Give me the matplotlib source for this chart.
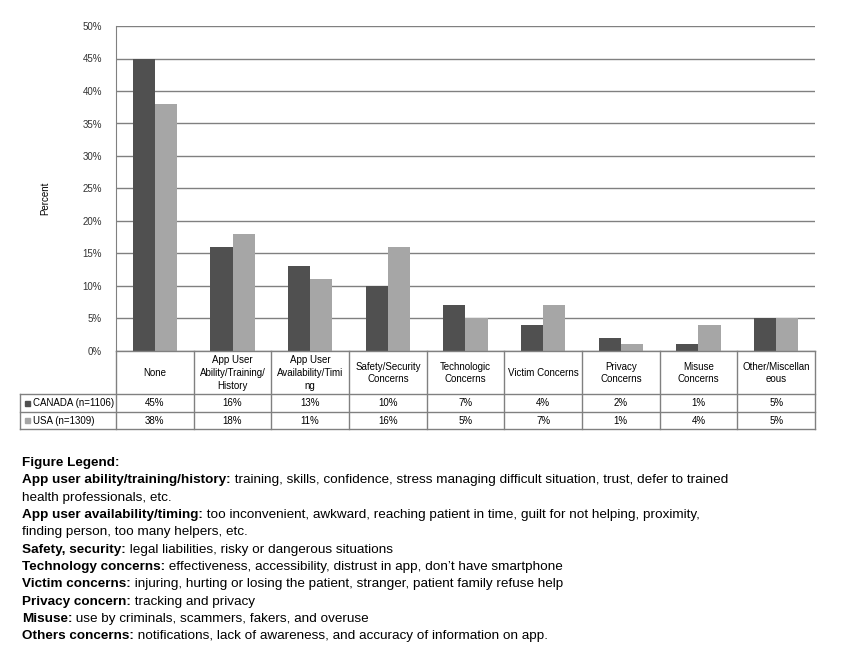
import matplotlib
matplotlib.use('Agg')
import matplotlib.pyplot as plt
from matplotlib.lines import Line2D
from matplotlib.patches import Rectangle
import numpy as np

# data
categories = ['None', 'App User\nAbility/Training/\nHistory', 'App User\nAvailability/Timi\nng',
              'Safety/Security\nConcerns', 'Technologic\nConcerns', 'Victim Concerns',
              'Privacy\nConcerns', 'Misuse\nConcerns', 'Other/Miscellan\neous']
canada = [45, 16, 13, 10, 7, 4, 2, 1, 5]
usa = [38, 18, 11, 16, 5, 7, 1, 4, 5]
series_labels = ['CANADA (n=1106)', 'USA (n=1309)']
yticks = list(range(0, 51, 5))

legend_title = 'Figure Legend:'
legend_lines = [
    ('App user ability/training/history:', ' training, skills, confidence, stress managing difficult situation, trust, defer to trained'),
    ('', 'health professionals, etc.'),
    ('App user availability/timing:', ' too inconvenient, awkward, reaching patient in time, guilt for not helping, proximity,'),
    ('', 'finding person, too many helpers, etc.'),
    ('Safety, security:', ' legal liabilities, risky or dangerous situations'),
    ('Technology concerns:', ' effectiveness, accessibility, distrust in app, don\u2019t have smartphone'),
    ('Victim concerns:', ' injuring, hurting or losing the patient, stranger, patient family refuse help'),
    ('Privacy concern:', ' tracking and privacy'),
    ('Misuse:', ' use by criminals, scammers, fakers, and overuse'),
    ('Others concerns:', ' notifications, lack of awareness, and accuracy of information on app.'),
]

dark = '#505050'
light = '#a6a6a6'
line_c = '#808080'
plt.rcParams['font.family'] = ['Liberation Sans', 'DejaVu Sans']

W, H = 844, 668
fig = plt.figure(figsize=(W / 100, H / 100), dpi=100)
fig.patch.set_facecolor('white')


def fx(x):
    return x / W


def fy(y):
    return 1 - y / H


x0, x1, ytop, ybot = 116, 815, 26, 351
ax = fig.add_axes([fx(x0), fy(ybot), fx(x1) - fx(x0), fy(ytop) - fy(ybot)])
n = len(categories)
pos = np.arange(n) + 0.5
bw = 0.285
ax.bar(pos - bw / 2, canada, bw, color=dark, zorder=3)
ax.bar(pos + bw / 2, usa, bw, color=light, zorder=3)
ax.set_xlim(0, n)
ax.set_ylim(0, 50)
ax.set_yticks(yticks)
ax.set_yticklabels([f'{t}%' for t in yticks], fontsize=7, color='#333333')
ax.set_xticks([])
ax.tick_params(axis='y', length=0, pad=10)
ax.yaxis.grid(True, color=line_c, linewidth=1)
ax.set_axisbelow(True)
for s in ['top', 'right', 'bottom']:
    ax.spines[s].set_visible(False)
ax.spines['left'].set_color(line_c)

fig.text(fx(45), fy(198), 'Percent', rotation=90, ha='center', va='center', fontsize=7)

# data table under the bars
colw = (x1 - x0) / n
def hline(y, xa, xb):
    fig.add_artist(Line2D([fx(xa), fx(xb)], [fy(y), fy(y)], color=line_c, lw=1))
def vline(x, ya, yb):
    fig.add_artist(Line2D([fx(x), fx(x)], [fy(ya), fy(yb)], color=line_c, lw=1))

hline(351, x0, x1)
for y in (394, 412, 429):
    hline(y, 20, x1)
vline(20, 394, 429)
vline(x0, 351, 429)
for k in range(1, n + 1):
    vline(x0 + k * colw, 351, 429)

tfs = 7
for i, cat in enumerate(categories):
    cx = x0 + (i + 0.5) * colw
    fig.text(fx(cx), fy(373), cat, ha='center', va='center', fontsize=tfs, linespacing=1.35)
    fig.text(fx(cx), fy(403), f'{canada[i]}%', ha='center', va='center', fontsize=tfs)
    fig.text(fx(cx), fy(420.5), f'{usa[i]}%', ha='center', va='center', fontsize=tfs)

for lab, col, y in zip(series_labels, [dark, light], [403, 420.5]):
    fig.add_artist(Rectangle((fx(25), fy(y + 2.5)), 5 / W, 5 / H, color=col))
    fig.text(fx(33), fy(y), lab, ha='left', va='center', fontsize=tfs)

# figure legend text block; size fitted so the first line spans as in the reference
renderer = fig.canvas.get_renderer()
probe_b = fig.text(0, 0, legend_lines[0][0], fontsize=10, fontweight='bold')
probe_n = fig.text(0, 0, legend_lines[0][1], fontsize=10)
wtot = probe_b.get_window_extent(renderer).width + probe_n.get_window_extent(renderer).width
probe_b.remove()
probe_n.remove()
fs = 10 * 706 / wtot

fig.text(fx(22), fy(463), legend_title, ha='left', va='center', fontsize=fs, fontweight='bold')
y = 480.5
for bold, normal in legend_lines:
    xx = fx(22)
    if bold:
        t = fig.text(xx, fy(y), bold, ha='left', va='center', fontsize=fs, fontweight='bold')
        bb = t.get_window_extent(renderer)
        xx = bb.x1 / W
    fig.text(xx, fy(y), normal, ha='left', va='center', fontsize=fs)
    y += 17.3

fig.savefig('out.png', dpi=100)
